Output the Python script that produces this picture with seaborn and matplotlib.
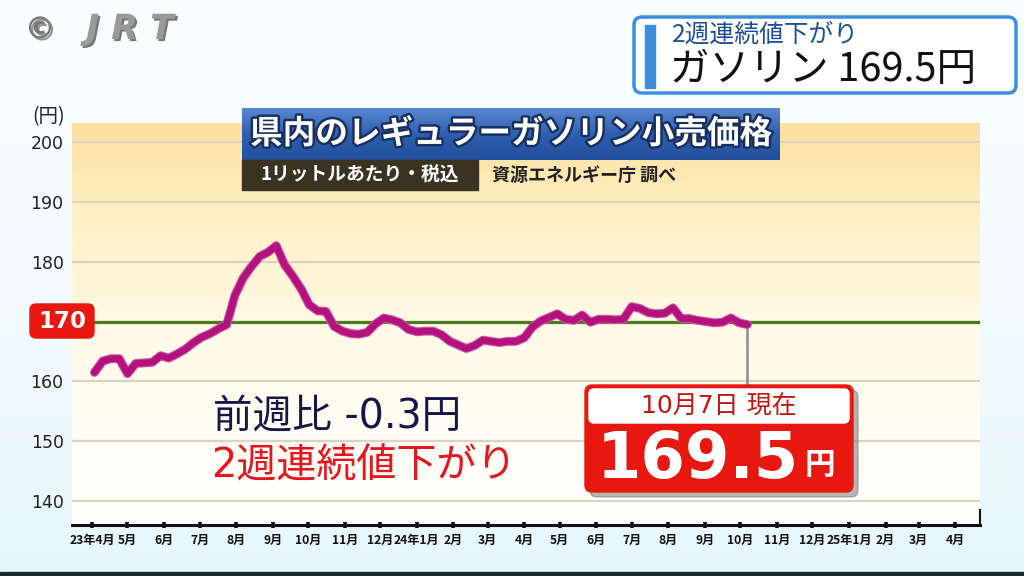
import numpy as np
import pandas as pd
import matplotlib
matplotlib.use("Agg")
import matplotlib.pyplot as plt
import seaborn as sns
from matplotlib.patches import FancyBboxPatch, Rectangle
from matplotlib.colors import LinearSegmentedColormap
import matplotlib.patheffects as pe

# ---------------- data ----------------
start_date = "2023-04-03"          # weekly survey, every Monday
prices = [161.5, 163.4, 163.8, 163.8, 161.3, 163.0, 163.1, 163.2, 164.3, 163.9,
          164.6, 165.4, 166.5, 167.4, 168.0, 168.8, 169.5, 174.4, 177.3, 179.2,
          180.9, 181.6, 182.7, 179.5, 177.6, 175.5, 172.8, 171.8, 171.7, 169.2,
          168.4, 168.0, 167.9, 168.2, 169.6, 170.6, 170.3, 169.8, 168.7, 168.3,
          168.4, 168.4, 167.8, 166.7, 166.1, 165.5, 166.0, 166.9, 166.7, 166.5,
          166.7, 166.7, 167.3, 169.1, 170.1, 170.7, 171.3, 170.4, 170.2, 171.1,
          169.9, 170.4, 170.4, 170.3, 170.4, 172.5, 172.2, 171.5, 171.3, 171.4,
          172.3, 170.5, 170.5, 170.2, 170.0, 169.8, 169.9, 170.6, 169.8, 169.5]
tick_labels = ["23年4月", "5月", "6月", "7月", "8月", "9月", "10月", "11月", "12月",
               "24年1月", "2月", "3月", "4月", "5月", "6月", "7月", "8月", "9月",
               "10月", "11月", "12月", "25年1月", "2月", "3月", "4月"]
y_ticks = [140, 150, 160, 170, 180, 190, 200]
ref_value = 170
callout_anchor = 159.3
dates = pd.date_range(start_date, periods=len(prices), freq="7D")
tick_dates = pd.date_range("2023-04-01", periods=len(tick_labels), freq="MS")
df = pd.DataFrame({"date": dates, "price": prices})

# ---------------- style ----------------
sns.set_theme(style="white")
plt.rcParams["font.family"] = ["DejaVu Sans", "Noto Sans CJK JP"]
CJK = ["Noto Sans CJK JP", "DejaVu Sans"]

W, H = 1024, 576
fig = plt.figure(figsize=(W / 100, H / 100), dpi=100)


def grad(axx, colors, transform=None, zorder=0):
    cmap = LinearSegmentedColormap.from_list("g", colors)
    arr = np.linspace(0, 1, 256).reshape(-1, 1)
    kw = {} if transform is None else {"transform": transform}
    axx.imshow(arr, cmap=cmap, aspect="auto", extent=[0, 1, 0, 1],
               origin="upper", zorder=zorder, **kw)


# figure background
bg = fig.add_axes([0, 0, 1, 1], zorder=-10)
grad(bg, ["#fbfeff", "#f3fbfe", "#e6f7fb"])
bg.set_xlim(0, 1); bg.set_ylim(0, 1); bg.axis("off")

# main axes
ax = fig.add_axes([72 / W, 1 - 525 / H, (980 - 72) / W, (525 - 123) / H], zorder=1)
ax.patch.set_alpha(0)
sns.lineplot(data=df, x="date", y="price", ax=ax, color="#b3117c", lw=4.8,
             zorder=5, path_effects=[pe.Stroke(linewidth=6.4, foreground="#d052a6"), pe.Normal()])
grad(ax, ["#fde0a0", "#fff1c6", "#fffae6", "#fffdf3", "#fffffb"], transform=ax.transAxes, zorder=0)

ax.axhline(ref_value, color="#4b7a1f", lw=2.3, zorder=3)
ax.vlines(dates[-1], callout_anchor, prices[-1], color="#8c8c8c", lw=1.8, zorder=4)

ax.set_xlim(pd.Timestamp("2023-03-15"), pd.Timestamp("2025-04-22"))
ax.set_ylim(136, 203.2)
ax.set_yticks(y_ticks)
ax.set_yticklabels([("" if v == ref_value else str(v)) for v in y_ticks])
ax.yaxis.grid(True, color="#dad3c3", lw=1.6, zorder=1)
ax.xaxis.grid(False)
ax.set_axisbelow(True)
ax.set_xticks(tick_dates)
ax.set_xticklabels(tick_labels, fontfamily=CJK, fontsize=8.7, fontweight="bold", color="#111")
ax.tick_params(axis="y", left=False, length=0, pad=6, labelsize=12.5, labelcolor="#222")
ax.tick_params(axis="x", bottom=True, length=5, width=2.6, direction="inout", color="#111", pad=4)
ax.set_xlabel(""); ax.set_ylabel("")
for s in ["left", "top"]:
    ax.spines[s].set_visible(False)
ax.spines["bottom"].set_color("#111"); ax.spines["bottom"].set_linewidth(2.2)
ax.spines["right"].set_color("#111"); ax.spines["right"].set_linewidth(1.5)
ax.spines["right"].set_bounds(136, 138.5)

# title gradient box
tax = fig.add_axes([242 / W, 1 - 160 / H, (780 - 242) / W, 52 / H], zorder=4)
grad(tax, ["#5a88cf", "#2f5fb0", "#234f9c"])
tax.set_xlim(0, 1); tax.set_ylim(0, 1); tax.axis("off")

# overlay in pixel coordinates
ov = fig.add_axes([0, 0, 1, 1], zorder=5)
ov.set_xlim(0, W); ov.set_ylim(H, 0); ov.axis("off"); ov.patch.set_alpha(0)

ov.text(511, 134, "県内のレギュラーガソリン小売価格", fontfamily=CJK, fontsize=23.5,
        fontweight="bold", color="white", ha="center", va="center",
        path_effects=[pe.withStroke(linewidth=3.5, foreground="#17305f")])
ov.add_patch(Rectangle((242, 160), 236, 30, color="#3b3322"))
ov.text(360, 175, "1リットルあたり・税込", fontfamily=CJK, fontsize=13.5, color="white",
        ha="center", va="center", fontweight="bold")
ov.text(492, 175, "資源エネルギー庁 調べ", fontfamily=CJK, fontsize=13, color="#222",
        ha="left", va="center", fontweight="bold")

# y unit and 170 badge
ov.text(49, 117, "(円)", fontfamily=CJK, fontsize=14, color="#222", ha="center", va="center")
ov.add_patch(FancyBboxPatch((30, 304), 64, 34, boxstyle="round,pad=0,rounding_size=6",
                            color="#e8170f", zorder=6))
ov.text(62, 322, str(ref_value), fontsize=16.5, fontweight="bold", color="white",
        ha="center", va="center", zorder=7)

# logo
ov.text(40, 30, "©", fontsize=22, color="#777", ha="center", va="center", fontweight="bold",
        path_effects=[pe.withSimplePatchShadow(offset=(1.5, -1.5), shadow_rgbFace="#333", alpha=0.5)])
ov.text(130, 29, "J R T", fontsize=25, color="#9a9a9a", ha="center", va="center",
        fontweight="bold", style="italic",
        path_effects=[pe.withSimplePatchShadow(offset=(1.5, -1.5), shadow_rgbFace="#222", alpha=0.6)])

# top-right caption
ov.add_patch(FancyBboxPatch((634, 17), 382, 76, boxstyle="round,pad=0,rounding_size=8",
                            facecolor="white", edgecolor="#3b8fe0", lw=2.5))
ov.add_patch(Rectangle((645, 25), 10, 63, color="#3a8ee0"))
ov.text(672, 35, "2週連続値下がり", fontfamily=CJK, fontsize=17.8, color="#1d4e9c",
        ha="left", va="center")
ov.text(670, 70, "ガソリン 169.5円", fontfamily=CJK, fontsize=28.5, color="#111",
        ha="left", va="center")

# commentary text
ov.text(213, 417, "前週比 -0.3円", fontsize=28.5, color="#16164a", ha="left", va="center")
ov.text(211, 467, "2週連続値下がり", fontsize=28.8, color="#e8141e", ha="left", va="center")

# callout box
ov.add_patch(FancyBboxPatch((590, 390), 268, 107, boxstyle="round,pad=0,rounding_size=7",
                            color="#7a7a7a", alpha=0.55, zorder=6))
ov.add_patch(FancyBboxPatch((585, 385), 268, 107, boxstyle="round,pad=0,rounding_size=7",
                            color="#e8170f", zorder=7))
ov.add_patch(FancyBboxPatch((589, 389), 260, 34, boxstyle="round,pad=0,rounding_size=5",
                            color="white", zorder=8))
ov.text(719, 407, "10月7日 現在", fontsize=18, color="#c3140d", ha="center", va="center", zorder=9)
ov.text(698, 460, f"{prices[-1]:.1f}", fontsize=46, fontweight="bold", color="white",
        ha="center", va="center", zorder=9)
ov.text(820, 465, "円", fontfamily=CJK, fontsize=22, fontweight="bold", color="white",
        ha="center", va="center", zorder=9)

ov.add_patch(Rectangle((0, 572), W, 4, color="#1c2a30"))

fig.savefig("out.png", dpi=100)
